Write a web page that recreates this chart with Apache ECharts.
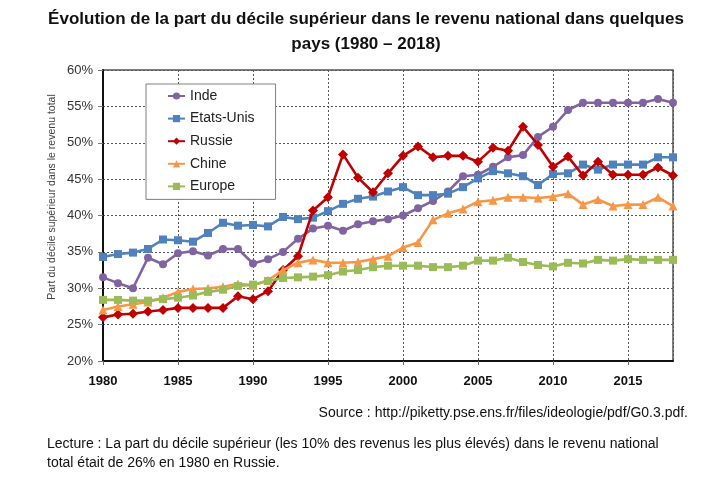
<!DOCTYPE html>
<html><head><meta charset="utf-8">
<script src="https://cdn.jsdelivr.net/npm/echarts@6/dist/echarts.min.js"></script>
<style>html,body{margin:0;padding:0;background:#fff}#c{width:718px;height:483px}</style>
</head><body><div id="c"></div>
<script>
const years = [1980,1981,1982,1983,1984,1985,1986,1987,1988,1989,1990,1991,1992,1993,1994,1995,1996,1997,1998,1999,2000,2001,2002,2003,2004,2005,2006,2007,2008,2009,2010,2011,2012,2013,2014,2015,2016,2017,2018];
const inde = [31.5,30.7,30.0,34.2,33.3,34.8,35.1,34.5,35.4,35.4,33.4,34.0,35.0,36.8,38.2,38.6,37.9,38.8,39.2,39.5,40.0,41.0,42.0,43.3,45.4,45.6,46.7,48.0,48.3,50.8,52.2,54.5,55.5,55.5,55.5,55.5,55.5,56.0,55.5];
const etatsUnis = [34.3,34.7,34.9,35.4,36.7,36.6,36.4,37.6,39.0,38.6,38.7,38.5,39.8,39.5,39.7,40.6,41.6,42.3,42.6,43.3,43.9,42.8,42.8,43.0,43.9,45.1,46.1,45.8,45.4,44.2,45.7,45.8,47.0,46.3,47.0,47.0,47.0,48.0,48.0];
const russie = [26.0,26.4,26.5,26.8,27.0,27.3,27.3,27.3,27.3,28.9,28.5,29.6,32.5,34.4,40.7,42.5,48.4,45.2,43.2,45.8,48.2,49.5,48.0,48.2,48.2,47.4,49.3,48.9,52.2,49.7,46.7,48.1,45.5,47.4,45.6,45.6,45.6,46.6,45.5];
const chine = [27.0,27.5,27.8,28.1,28.7,29.5,29.9,30.0,30.2,30.6,30.4,31.1,32.5,33.5,33.9,33.5,33.5,33.6,34.0,34.4,35.6,36.3,39.4,40.3,40.9,41.9,42.1,42.5,42.5,42.4,42.6,43.0,41.5,42.2,41.3,41.5,41.5,42.5,41.3];
const europe = [28.4,28.4,28.3,28.3,28.5,28.7,29.0,29.5,29.8,30.3,30.5,31.0,31.4,31.5,31.6,31.8,32.3,32.5,32.9,33.1,33.1,33.1,32.9,32.9,33.1,33.8,33.8,34.2,33.6,33.2,33.0,33.5,33.4,33.9,33.8,34.0,33.9,33.9,33.9];
const seriesNames = ['Inde','Etats-Unis','Russie','Chine','Europe'];
const titleText = 'Évolution de la part du décile supérieur dans le revenu national dans quelques\npays (1980 – 2018)';
const yAxisTitle = 'Part du décile supérieur dans le revenu total';
const sourceText = 'Source : http://piketty.pse.ens.fr/files/ideologie/pdf/G0.3.pdf.';
const lectureText = 'Lecture : La part du décile supérieur (les 10% des revenus les plus élevés) dans le revenu national\ntotal était de 26% en 1980 en Russie.';

const FONT = '"Liberation Sans", Arial, sans-serif';
const chart = echarts.init(document.getElementById('c'));
function pairs(arr){ return years.map((y,i)=>[y,arr[i]]); }
const defs = [
  {data:inde, color:'#8064A2', symbol:'circle', size:8},
  {data:etatsUnis, color:'#4F81BD', symbol:'rect', size:8},
  {data:russie, color:'#C00000', symbol:'diamond', size:10},
  {data:chine, color:'#F79646', symbol:'triangle', size:9},
  {data:europe, color:'#9BBB59', symbol:'rect', size:8}
];
const series = defs.map((d,i)=>({
  name: seriesNames[i], type:'line', data: pairs(d.data),
  symbol: d.symbol, symbolSize: d.size, showSymbol:true,
  itemStyle:{color:d.color}, lineStyle:{color:d.color, width:2.6},
  z: 3 + i
}));
const option = {
  animation:false,
  backgroundColor:'#fff',
  textStyle:{fontFamily:FONT},
  grid:{left:103, right:45, top:70, bottom:122, show:true, borderColor:'#555', borderWidth:1.5, backgroundColor:'transparent'},
  xAxis:{type:'value', min:1980, max:2018, interval:5,
    axisLine:{show:true, lineStyle:{color:'#111', width:2}},
    axisTick:{show:true, length:4, lineStyle:{color:'#666'}},
    axisLabel:{color:'#111', fontWeight:'bold', fontSize:13, fontFamily:FONT, margin:14, showMaxLabel:false,
      formatter:v=> (v%5===0? String(v):'')},
    splitLine:{show:true, lineStyle:{color:'#555', type:[2,2], width:1}}
  },
  yAxis:{type:'value', min:20, max:60, interval:5,
    axisLine:{show:true, lineStyle:{color:'#111', width:2}},
    axisTick:{show:true, length:5, lineStyle:{color:'#777'}},
    axisLabel:{color:'#333', fontSize:13, fontFamily:FONT, margin:10, formatter:'{value}%'},
    splitLine:{show:true, lineStyle:{color:'#555', type:[2,2], width:1}}
  },
  legend:{orient:'vertical', left:146, top:84, data:seriesNames,
    itemWidth:17, itemHeight:9, itemGap:8.6,
    padding:[5,21,6,21],
    backgroundColor:'#fff', borderColor:'#7f7f7f', borderWidth:1,
    textStyle:{color:'#222', fontSize:14, fontFamily:FONT}
  },
  graphic:[
    {type:'text', x:366, y:7, style:{text:titleText, fill:'#111', font:'bold 17px '+FONT, textAlign:'center', lineHeight:25}},
    {type:'text', x:52, y:197, rotation:Math.PI/2, style:{text:yAxisTitle, fill:'#444', font:'10.5px '+FONT, textAlign:'center', textVerticalAlign:'middle'}},
    {type:'text', x:688, y:413, style:{text:sourceText, fill:'#111', font:'14px '+FONT, textAlign:'right', textVerticalAlign:'middle'}},
    {type:'text', x:47, y:435, style:{text:lectureText, fill:'#111', font:'14px '+FONT, textAlign:'left', lineHeight:19}}
  ],
  series: series
};
chart.setOption(option);
</script></body></html>
